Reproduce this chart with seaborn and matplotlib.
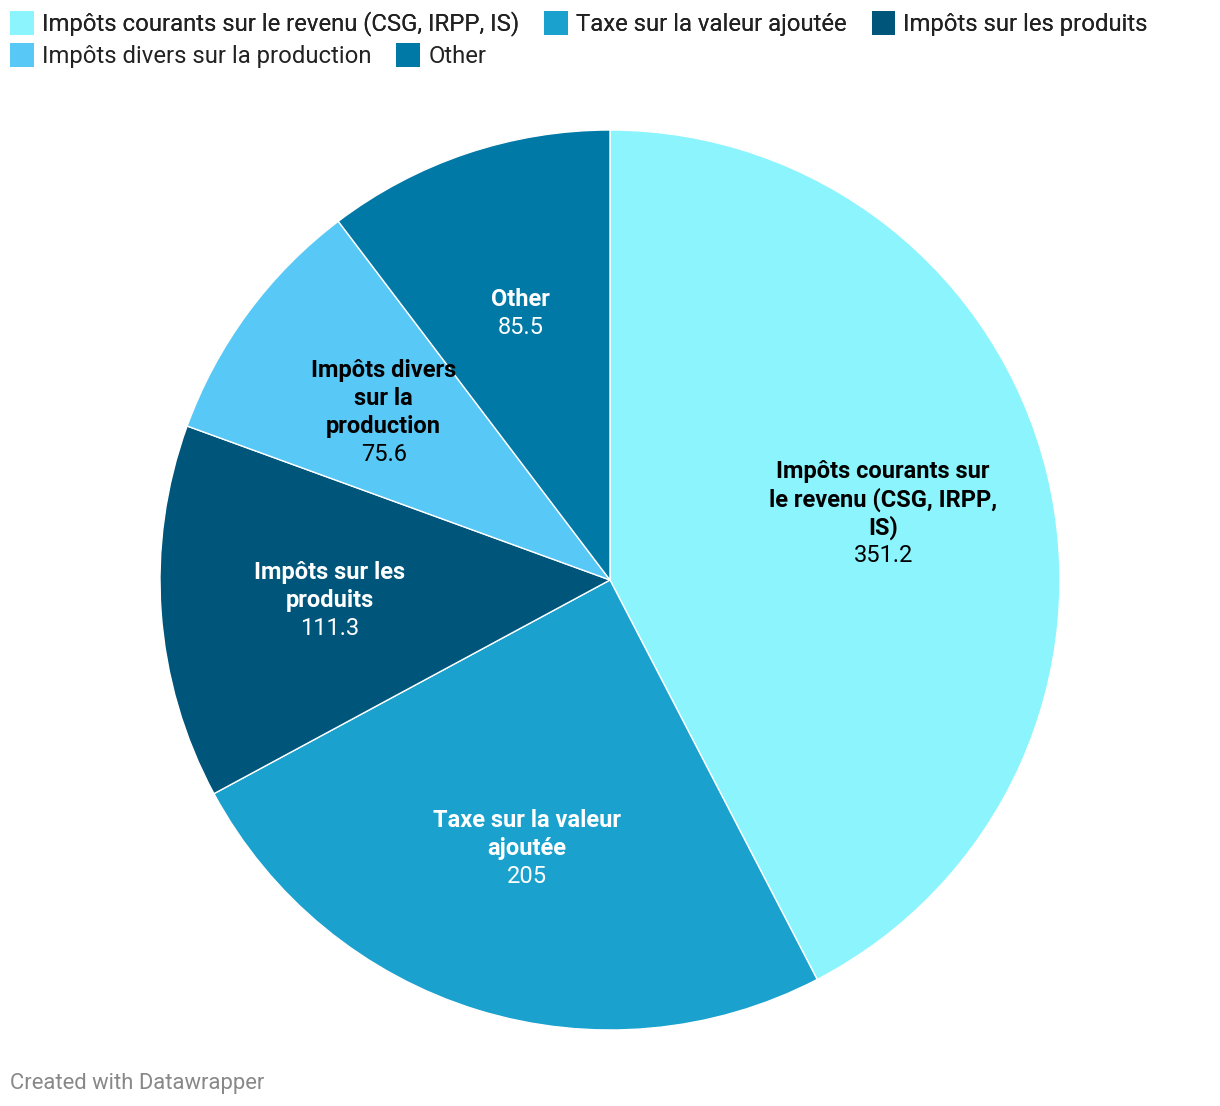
import numpy as np
import matplotlib.pyplot as plt
import matplotlib.patches as mpatches
import seaborn as sns

# Data
categories = [
    "Impôts courants sur le revenu (CSG, IRPP, IS)",
    "Taxe sur la valeur ajoutée",
    "Impôts sur les produits",
    "Impôts divers sur la production",
    "Other",
]
values = [351.2, 205, 111.3, 75.6, 85.5]
value_labels = ["351.2", "205", "111.3", "75.6", "85.5"]
wrapped_names = [
    ["Impôts courants sur", "le revenu (CSG, IRPP,", "IS)"],
    ["Taxe sur la valeur", "ajoutée"],
    ["Impôts sur les", "produits"],
    ["Impôts divers", "sur la", "production"],
    ["Other"],
]
colors = ["#8cf4fd", "#1aa1cd", "#00557a", "#58c9f6", "#0079a7"]
text_colors = ["#000000", "#ffffff", "#ffffff", "#000000", "#ffffff"]

sns.set_theme(style="white")
plt.rcParams["font.family"] = ["Roboto", "DejaVu Sans"]

fig = plt.figure(figsize=(12.2, 11.06), dpi=100)
ax = fig.add_axes([160 / 1220, 76 / 1106, 900 / 1220, 900 / 1106])

wedges, _ = ax.pie(values, colors=colors, startangle=90, counterclock=False,
                   radius=1.0, wedgeprops=dict(edgecolor="white", linewidth=1))
ax.set_xlim(-1, 1)
ax.set_ylim(-1, 1)
ax.set_aspect("equal")
ax.axis("off")

# Labels inside slices
label_r = 0.625
line_pts = 28 * 72 / 100  # 28 px line spacing
for w, names, val, tc in zip(wedges, wrapped_names, value_labels, text_colors):
    mid = np.deg2rad((w.theta1 + w.theta2) / 2)
    x, y = label_r * np.cos(mid), label_r * np.sin(mid)
    lines = names + [val]
    n = len(lines)
    for i, line in enumerate(lines):
        off = -(i - (n - 1) / 2) * line_pts
        ax.annotate(line, xy=(x, y), xytext=(0, off), textcoords="offset points",
                    ha="center", va="center", fontsize=17, color=tc,
                    fontweight="bold" if i < n - 1 else "normal")

# Legend (two rows, flowing layout)
handles = [mpatches.Patch(facecolor=c, edgecolor="none") for c in colors]
leg_kw = dict(frameon=False, fontsize=17.2, handlelength=1.0, handleheight=1.15,
              handletextpad=0.33, columnspacing=1.05, borderaxespad=0, borderpad=0,
              labelcolor="#222222", loc="upper left")
leg1 = fig.legend(handles[:3], categories[:3], ncol=3,
                  bbox_to_anchor=(10 / 1220, 1 - 11 / 1106), **leg_kw)
fig.add_artist(leg1)
leg2 = fig.legend(handles[3:], categories[3:], ncol=2,
                  bbox_to_anchor=(10 / 1220, 1 - 43 / 1106), **leg_kw)

fig.text(10 / 1220, 1 - 1083 / 1106, "Created with Datawrapper", fontsize=15.8,
         color="#888888", ha="left", va="center")

fig.savefig("out.png", dpi=100, facecolor="white")
